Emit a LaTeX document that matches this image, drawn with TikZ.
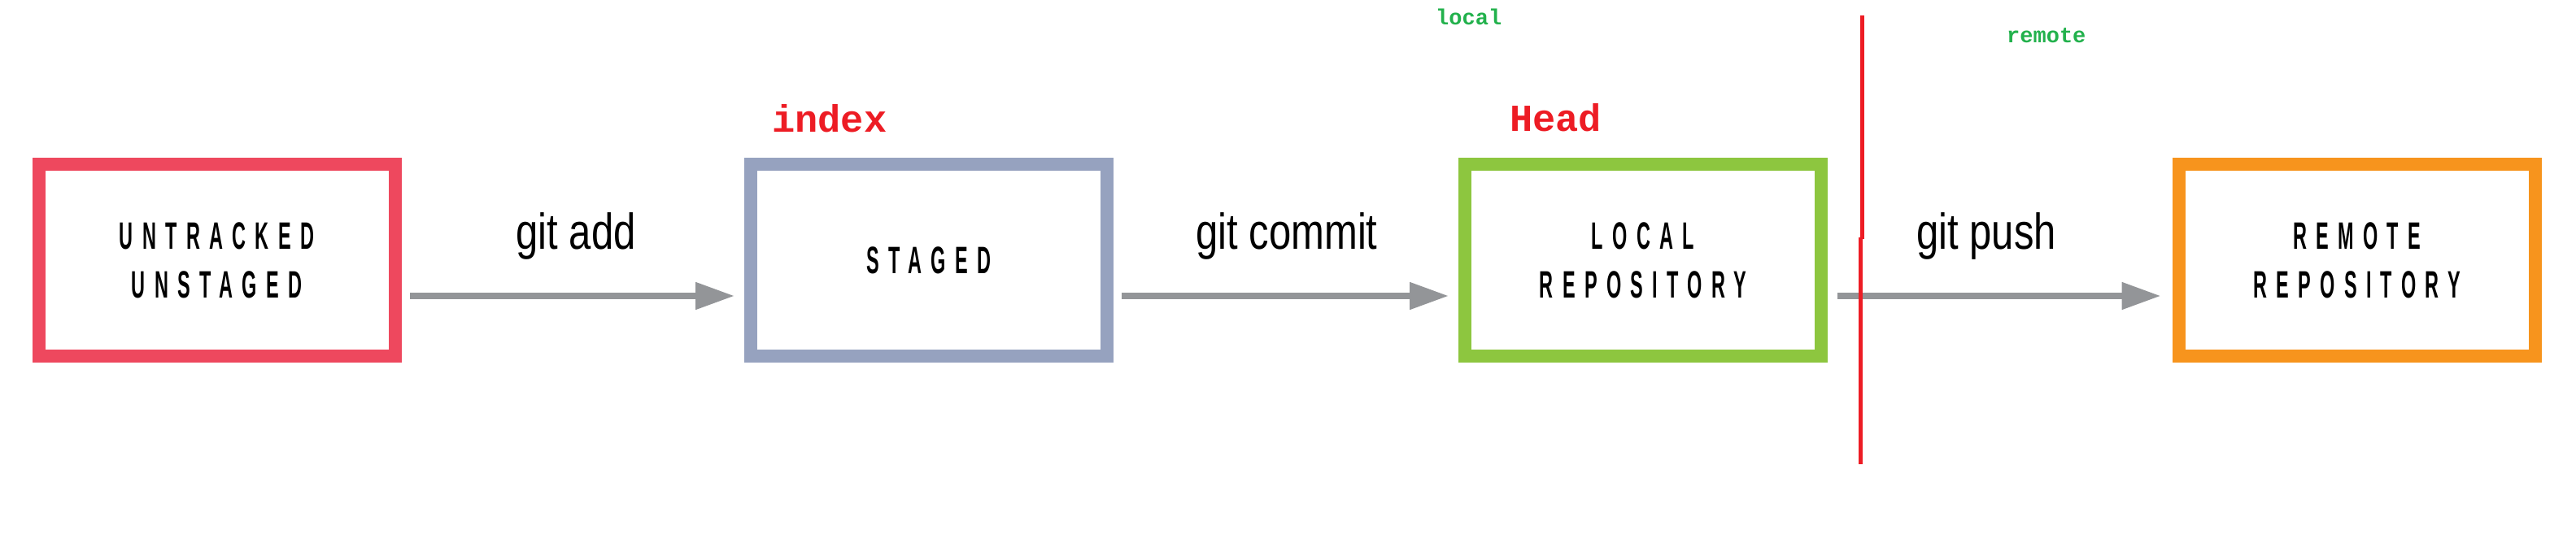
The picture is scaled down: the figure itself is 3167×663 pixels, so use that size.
\documentclass[tikz,border=0pt]{standalone}
\usepackage{fontspec}
\usetikzlibrary{arrows.meta}
\newfontfamily\boxfont[FakeStretch=0.5,LetterSpace=24]{Liberation Sans Bold}
\newfontfamily\cmdfont[FakeStretch=0.79]{Liberation Sans}
\newfontfamily\codefont{Liberation Mono}
\definecolor{cRed}{HTML}{EE485E}
\definecolor{cBlue}{HTML}{96A2BF}
\definecolor{cGreen}{HTML}{8DC63F}
\definecolor{cOrange}{HTML}{F7941D}
\definecolor{cArrow}{HTML}{939598}
\definecolor{cText}{HTML}{ED1C24}
\definecolor{cGreenText}{HTML}{22B14C}
\tikzset{
  statebox/.style={draw=#1, line width=16pt, minimum width=438pt, minimum height=236pt,
    inner sep=0pt, align=center, font=\boxfont\fontsize{47}{60}\selectfont},
  flow/.style={draw=cArrow, line width=8pt, -{Triangle[length=48pt,width=32pt]}},
  cmdlabel/.style={inner sep=0pt, anchor=base, font=\cmdfont\fontsize{62}{70}\selectfont},
  refname/.style={inner sep=0pt, anchor=base west, text=cText, font=\codefont\bfseries\fontsize{47}{50}\selectfont},
  sidename/.style={inner sep=0pt, anchor=base west, text=cGreenText, font=\codefont\bfseries\fontsize{27}{30}\selectfont},
  divider/.style={draw=cText, line width=5pt}
}
\begin{document}
\begin{tikzpicture}[x=1pt,y=-1pt]
\useasboundingbox (0,0) rectangle (3167,663);
\node[statebox=cRed] (b1) at (266.5,320) {UNTRACKED\\UNSTAGED};
\node[statebox=cBlue] (b2) at (1142,320) {STAGED};
\node[statebox=cGreen] (b3) at (2020,320) {LOCAL\\REPOSITORY};
\node[statebox=cOrange] (b4) at (2897.5,320) {REMOTE\\REPOSITORY};
\draw[flow] ([xshift=10pt]b1.east |- 0,364) -- ([xshift=-12pt]b2.west |- 0,364);
\draw[flow] ([xshift=10pt]b2.east |- 0,364) -- ([xshift=-12pt]b3.west |- 0,364);
\draw[flow] ([xshift=12pt]b3.east |- 0,364) -- ([xshift=-14pt]b4.west |- 0,364);
\node[cmdlabel] (l1) at (708,306) {git add};
\node[cmdlabel] (l2) at (1582,306) {git commit};
\node[cmdlabel] (l3) at (2442,306) {git push};
\node[refname] (idx) at (949,163) {index};
\node[refname] (head) at (1856,162) {Head};
\node[sidename] (loc) at (1765,31) {local};
\node[sidename] (rem) at (2467,53) {remote};
\coordinate (d1) at (2289,19);
\coordinate (d2) at (2289,294);
\coordinate (d3) at (2287,292);
\coordinate (d4) at (2287,571);
\draw[divider] (d1) -- (d2);
\draw[divider] (d3) -- (d4);
\end{tikzpicture}
\end{document}
